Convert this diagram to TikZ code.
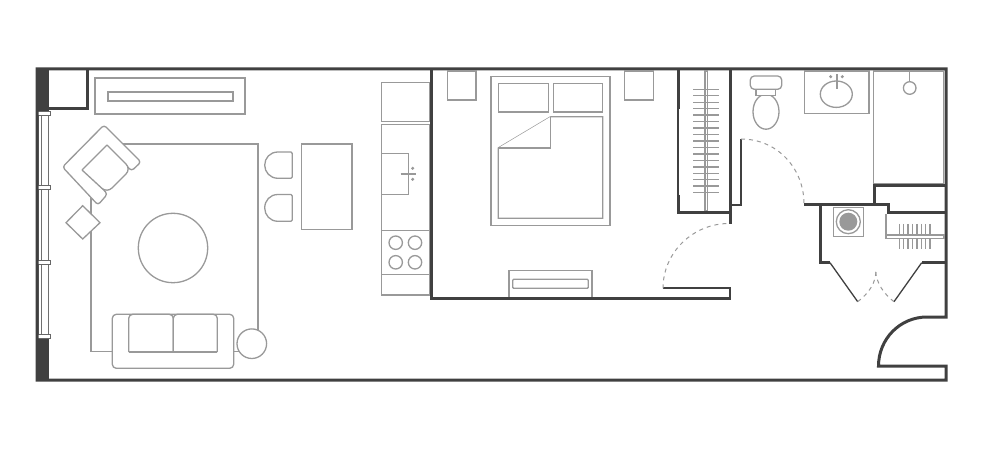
\documentclass[tikz,border=0pt]{standalone}
\begin{document}
\begin{tikzpicture}[x=1pt,y=-1pt,wall/.style={draw=wallgray,line width=3pt},thinwall/.style={draw=wallgray,line width=1.8pt},fixture/.style={draw=fixgray,line width=1.3pt,fill=white},hanger/.style={draw=fixgray,line width=1.4pt},swing/.style={draw=fixgray,line width=1pt,dash pattern=on 4pt off 4pt},mullion/.style={draw=wallgray!80,line width=0.9pt,fill=white}]
            \definecolor{wallgray}{HTML}{404040}
            \definecolor{fixgray}{HTML}{999999}
            \useasboundingbox (0,0) rectangle (982,454);

            \fill[wallgray] (37,69) rectangle (49,112);
            \fill[wallgray] (37,338) rectangle (49,380);
            \draw[draw=wallgray!75,line width=0.9pt] (38,112) -- (38,338) (41,112) -- (41,338) (48,112) -- (48,338);
            \foreach \ym in {113.5,187.5,262,336.5}
                \draw[mullion] (37.5,\ym-2) rectangle (50,\ym+2);

            \draw[wall] (87,69) -- (87,109) -- (48,109);
            \draw[wall] (37,69) -- (946,69) -- (946,317) -- (927,317) .. controls (900,317) and (878.5,339) .. (878.5,366) -- (946,366) -- (946,380) -- (37,380) -- cycle;

            \draw[fixture] (95,78) rectangle (245,114);
            \draw[fixture] (108,92) rectangle (233,101);

            \draw[fixture] (91,144) rectangle (258,351.5);
            \draw[fixture,rounded corners=3pt] (104,125) -- (141,162) -- (131.5,171) -- (122,161) -- (98,184) -- (107.5,194) -- (98,205) -- (62.5,167) -- cycle;
            \draw[fixture,rounded corners=7pt] (107,145) -- (131,169) -- (107,193) -- (82,170);
            \draw[fixture] (82,170) -- (107,145);
            \draw[fixture] (82.7,205.7) -- (100,222.7) -- (82.7,239) -- (66,222.7) -- cycle;
            \draw[fixture] (173,248) circle (34.7);
            \draw[fixture,rounded corners=4pt] (112.3,314.3) rectangle (233.7,368.3);
            \draw[fixture,rounded corners=4pt] (128.7,352) -- (128.7,314.3) -- (173.3,314.3) -- (173.3,352);
            \draw[fixture,rounded corners=4pt] (173.3,352) -- (173.3,314.3) -- (217.3,314.3) -- (217.3,352);
            \draw[fixture] (128.7,352) -- (217.3,352);
            \draw[fixture] (251.8,343.7) circle (14.8);

            \draw[fixture] (291,152) .. controls (292,152) and (292.3,152.5) .. (292.3,153.5) -- (292.3,177) .. controls (292.3,178) and (292,178.3) .. (291,178.3) -- (278,178.3) .. controls (270,178.3) and (264.7,172) .. (264.7,165.2) .. controls (264.7,158) and (270,152) .. (278,152) -- cycle;
            \draw[fixture] (291,194.5) .. controls (292,194.5) and (292.3,195) .. (292.3,196) -- (292.3,220) .. controls (292.3,221) and (292,221.3) .. (291,221.3) -- (278,221.3) .. controls (270,221.3) and (264.7,215) .. (264.7,208) .. controls (264.7,200.5) and (270,194.5) .. (278,194.5) -- cycle;
            \draw[fixture] (301.7,144) rectangle (352,229.3);

            \draw[fixture] (381.3,82.3) rectangle (430,121.7);
            \draw[fixture] (381.3,124.7) rectangle (430,230.7);
            \draw[fixture] (381.3,153.7) rectangle (408.3,194.3);
            \draw[fixture,line width=1.8pt] (400.7,173.7) -- (416,173.7);
            \fill[fixgray] (412.7,168.3) circle (1.7) (412.7,179.3) circle (1.7);
            \draw[fixture] (381.3,230.7) rectangle (430,274.3);
            \draw[fixture] (381.3,274.3) rectangle (430,295);
            \foreach \xb in {395.7,415}
                \foreach \yb in {242.7,262.3}
                    \draw[fixture] (\xb,\yb) circle (6.7);

            \draw[fixture] (447.3,71) rectangle (476,100);
            \draw[fixture] (624.7,71) rectangle (653.3,100);
            \draw[fixture] (491,76.7) rectangle (610,225.7);
            \draw[fixture] (498.3,83.7) rectangle (548.3,112);
            \draw[fixture] (553.3,83.7) rectangle (602.7,112);
            \draw[fixture] (498.3,148) -- (550.7,116.7) -- (602.7,116.7) -- (602.7,218.3) -- (498.3,218.3) -- cycle;
            \draw[fixture] (498.3,148) -- (550.7,148) -- (550.7,116.7);
            \draw[fixture] (509,270.7) rectangle (592,298);
            \draw[fixture,rounded corners=1pt] (512.7,279.3) rectangle (588.3,288.3);

            \draw[wall] (431,69) -- (431,298.5) -- (730,298.5);
            \draw[thinwall] (730,299.5) -- (730,288.3) -- (663,288.3);
            \draw[swing] (663,288.3) .. controls (663,252.4) and (693,223.5) .. (729,223.5);

            \foreach \yh in {0,...,16}
                \draw[hanger] (693.3,89.3+\yh*6.46) -- (719,89.3+\yh*6.46);
            \draw[fixture,fill=none] (705,71) rectangle (707.7,211);
            \draw[wall] (678,69) -- (678,109);
            \draw[thinwall] (678,109) -- (678,195);
            \draw[wall] (678,195) -- (678,212.5) -- (730,212.5);
            \draw[wall] (730,69) -- (730,224);
            \draw[thinwall] (741,139) -- (741,205) -- (729,205);
            \draw[swing] (741,139) .. controls (777,139) and (804,168) .. (804,204);

            \draw[fixture] (766,111.7) ellipse (13 and 17.5);
            \draw[fixture] (756,89.3) -- (756,95.3) -- (775.7,95.3) -- (775.7,89.3);
            \draw[fixture,rounded corners=4pt] (750.3,76) rectangle (781.7,89.3);
            \draw[fixture] (804.7,71) rectangle (869,113.3);
            \draw[fixture] (836.3,94.2) ellipse (16 and 13.2);
            \draw[fixture,line width=1.8pt] (836.7,74.3) -- (836.7,89);
            \fill[fixgray] (830.7,76.7) circle (1.7) (842.3,76.7) circle (1.7);
            \draw[fixture] (873.7,71) rectangle (943.3,184);
            \draw[fixture] (909.7,71) -- (909.7,82);
            \draw[fixture] (909.7,88) circle (6.3);

            \draw[wall] (804,205) -- (888.3,205) -- (888.3,212.7) -- (946,212.7);
            \draw[wall] (874.5,205) -- (874.5,186) -- (946,186);
            \draw[wall] (820,205) -- (820,262.7) -- (830,262.7);
            \draw[wall] (946,262.7) -- (921.7,262.7);
            \draw[draw=wallgray,line width=1.3pt] (830,262.7) -- (857.7,301.7);
            \draw[draw=wallgray,line width=1.3pt] (921.7,262.7) -- (894,301.7);
            \draw[swing] (857.7,301.7) .. controls (869,293) and (876,283) .. (876,270);
            \draw[swing] (894,301.7) .. controls (884,294) and (876,283) .. (875.5,270);

            \draw[fixture] (833.7,207.3) rectangle (863.3,236.3);
            \draw[fixture] (848.3,221.7) circle (12);
            \fill[fixgray] (848.3,221.7) circle (9);
            \draw[fixture,fill=none] (886,214) -- (886,237);
            \foreach \xh in {0,...,7}
                \draw[hanger] (899.3+\xh*4.4,224) -- (899.3+\xh*4.4,249.3);
            \draw[fixture] (886,235) rectangle (944,238.3);
        \end{tikzpicture}
\end{document}
